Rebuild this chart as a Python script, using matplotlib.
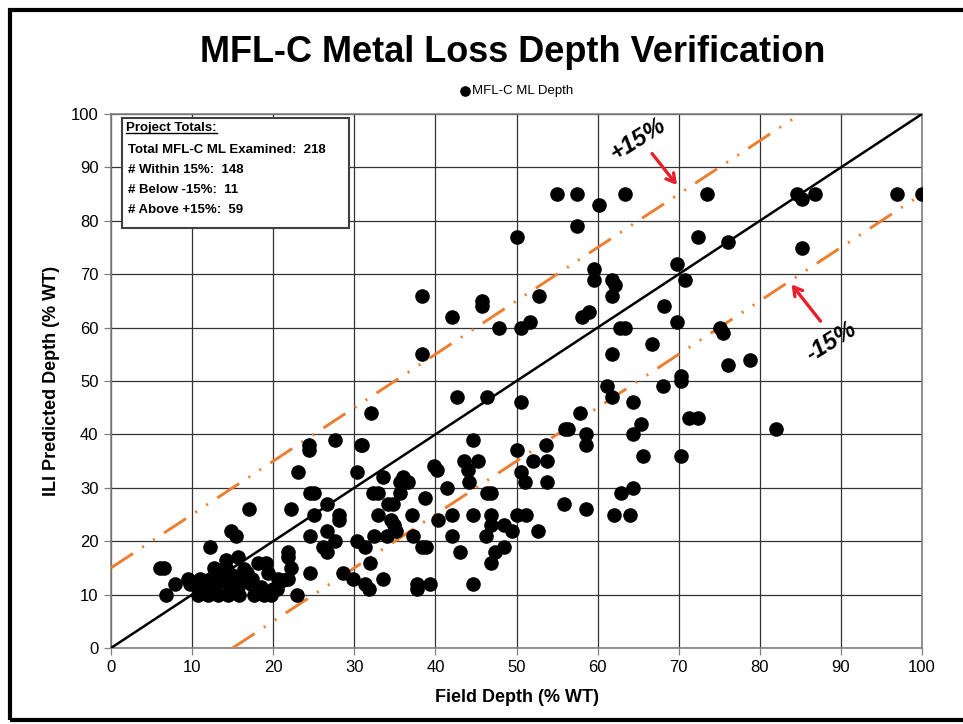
import matplotlib
matplotlib.use("Agg")
import matplotlib.pyplot as plt
from matplotlib import font_manager
from matplotlib.patches import Rectangle
from matplotlib.lines import Line2D

# pick a condensed sans if there is one
names = {f.name for f in font_manager.fontManager.ttflist}
fam = 'Liberation Sans Narrow' if 'Liberation Sans Narrow' in names else 'Liberation Sans'
plt.rcParams['font.family'] = [fam, 'DejaVu Sans']

# field depth (x) and ILI predicted depth (y), % WT
field = [6, 6.5, 6.8, 7.9, 9.5, 11, 12.2, 13.4, 14.2, 15.8, 16.6, 17.4, 20.6, 21.8,
         9.7, 10.7, 11.8, 13, 14.5, 15.7, 17.3, 18.5, 19.6,
         10.7, 12, 13.2, 14.4, 15.8, 17.6, 18.9, 19.7, 20,
         12.2, 14.8, 15.4, 14.2, 15.7, 18.1, 19.1, 12.7, 14.2, 16.4, 19.4,
         17, 22.2, 21.8, 21.8, 22.2, 22.9, 21.2, 13.7, 14.9, 16.8, 11.3, 20.5,
         24.5, 24.5, 24.5, 23,
         32, 27.6, 30.9, 24.4, 24.4, 30.3, 33.5, 36, 36.6, 35.6, 25, 32.3, 32.9, 35.6,
         38.7, 26.6, 34.2, 34.8, 28.1, 28.1, 25, 32.9, 37.1, 34.5, 34.9, 35.1, 26.6,
         27.6, 30.3, 32.4, 34, 37.2, 26.1, 26.6, 31.3, 31.9, 28.6, 29.8, 33.5, 31.3,
         31.8, 37.7, 37.7, 39.3, 44.6, 38.3, 38.8, 43, 47.3, 48.5, 46.8, 42, 46.3,
         48.5, 49.4, 52.6, 46.9, 46.9, 44.6, 42, 40.3, 50, 51.2, 55.9, 58.6, 41.4,
         40.2, 39.8, 44, 44.2, 43.5, 45.2, 50.6, 51, 53.8, 53.8, 52, 53.6, 50, 44.6,
         46.4, 46.8, 30.8,
         38.3, 38.3, 42, 45.7, 45.7, 47.8, 50.5, 51.7, 52.8, 42.7, 46.4, 50.5,
         55, 57.5, 63.4, 73.5, 84.6, 85.2, 86.8, 96.9, 100, 60.2, 57.5, 50, 72.4,
         76.1, 85.2, 59.6, 59.6, 61.8, 62.1, 61.8, 69.8, 70.8, 68.2, 69.8, 58.1, 59,
         62.8, 63.4, 75.1, 75.5, 66.7, 61.8, 78.8, 76.1, 70.3, 70.3, 68.1, 61.2, 61.8,
         57.8, 64.4, 65.4, 71.3, 72.4, 64.4, 58.6, 58.6, 82, 56, 56.4, 65.6, 70.3,
         62.9, 64.4, 62, 64]
ili = [15, 15, 10, 12, 13, 13, 13, 14, 13, 13, 14, 13, 13, 13,
       12, 11.5, 11, 12, 11.5, 11.5, 12, 11.5, 10.5,
       10, 10, 10, 10, 10, 10, 10, 10, 11,
       19, 22, 21, 16.5, 17, 16, 16, 15, 15, 14.8, 14,
       26, 26, 18, 17, 15, 10, 12.7, 14, 13.7, 14, 12.5, 11,
       29, 21, 14, 33,
       44, 39, 38, 38, 37, 33, 32, 32, 31, 31, 29, 29, 29, 29,
       28, 27, 27, 27, 25, 24, 25, 25, 25, 24, 23, 22, 22,
       20, 20, 21, 21, 21, 19, 18, 19, 16, 14, 13, 13, 12,
       11, 12, 11, 12, 12, 19, 19, 18, 18, 19, 16, 21, 21,
       23, 22, 22, 23, 25, 25, 25, 24, 25, 25, 27, 26, 30,
       33.3, 34, 33.3, 31, 35, 35, 33, 31, 31, 35, 35, 38, 37, 39,
       29, 29, 38,
       66, 55, 62, 65, 64, 60, 60, 61, 66, 47, 47, 46,
       85, 85, 85, 85, 85, 84, 85, 85, 85, 83, 79, 77, 77,
       76, 75, 71, 69, 69, 68, 66, 72, 69, 64, 61, 62, 63,
       60, 60, 60, 59, 57, 55, 54, 53, 51, 50, 49, 49, 47,
       44, 46, 42, 43, 43, 40, 40, 38, 41, 41, 41, 36, 36,
       29, 30, 25, 25]

ticks = list(range(0, 101, 10))
totals = ["Total MFL-C ML Examined:  218", "# Within 15%:  148",
          "# Below -15%:  11", "# Above +15%:  59"]

W, H = 963, 724
fig = plt.figure(figsize=(W / 100, H / 100), dpi=100)
ax = fig.add_axes([111 / W, 1 - 648 / H, 811 / W, 534 / H])

orange = '#ED7D31'
dashdotdot = (0, (9, 3.8, 0.7, 3.8, 0.7, 3.8))
ax.plot([0, 100], [0, 100], color='black', lw=1.8, zorder=3)
ax.plot([0, 85], [15, 100], color=orange, lw=2.1, ls=dashdotdot, dash_capstyle='butt', zorder=3)
ax.plot([15, 100], [0, 85], color=orange, lw=2.1, ls=dashdotdot, dash_capstyle='butt', zorder=3)
ax.scatter(field, ili, s=90, color='black', zorder=4, label='MFL-C ML Depth')

ax.set_xlim(0, 100)
ax.set_ylim(0, 100)
ax.set_xticks(ticks)
ax.set_yticks(ticks)
ax.grid(True, color='#333333', lw=0.9)
ax.set_axisbelow(True)
for s in ax.spines.values():
    s.set_color('#808080')
    s.set_linewidth(1.2)
ax.tick_params(length=5, width=0.9, color='#808080', labelsize=12, pad=4)

ax.set_xlabel('Field Depth (% WT)', fontsize=13, fontweight='bold', labelpad=10)
ax.set_ylabel('ILI Predicted Depth (% WT)', fontsize=13, fontweight='bold', labelpad=8)

fig.text(0.532, 1 - 52 / H, 'MFL-C Metal Loss Depth Verification', fontsize=26,
         fontweight='bold', ha='center', va='center')
ax.legend(loc='center', bbox_to_anchor=(0.5, 1.043), frameon=False, fontsize=9.5,
          handlelength=0.8, handletextpad=0.1, markerscale=0.7, borderaxespad=0)

# totals box
ax.add_patch(Rectangle((122 / W, 1 - 228 / H), 227 / W, 110 / H, transform=fig.transFigure,
                       facecolor='white', edgecolor='#404040', lw=1.5, zorder=5))
t0 = fig.text(126 / W, 1 - 128 / H, 'Project Totals:', fontsize=9.5, fontweight='bold',
              va='center', zorder=6)
for i, s in enumerate(totals):
    fig.text(128 / W, 1 - (150 + 20 * i) / H, s, fontsize=9.5, fontweight='bold',
             va='center', zorder=6)

# +/-15% labels with red arrows
ax.text(65.0, 95.2, '+15%', fontsize=17, fontweight='bold', style='italic',
        rotation=32, ha='center', va='center')
ax.text(88.8, 57.3, '-15%', fontsize=17, fontweight='bold', style='italic',
        rotation=32, ha='center', va='center')
red = '#E8202A'
ax.annotate('', xy=(70.0, 86.3), xytext=(66.5, 93.0),
            arrowprops=dict(arrowstyle='->,head_length=0.6,head_width=0.35', color=red, lw=2.4))
ax.annotate('', xy=(83.7, 68.5), xytext=(87.7, 60.8),
            arrowprops=dict(arrowstyle='->,head_length=0.6,head_width=0.35', color=red, lw=2.4))

# underline under the box heading
fig.canvas.draw()
bb = t0.get_window_extent().transformed(fig.transFigure.inverted())
fig.add_artist(Line2D([bb.x0, bb.x1], [bb.y0 + 0.001, bb.y0 + 0.001], color='black', lw=1,
                      transform=fig.transFigure, zorder=6))

# outer frame
fig.add_artist(Rectangle((10 / W, 1 - 720 / H), 970 / W, 710 / H, transform=fig.transFigure,
                         fill=False, edgecolor='black', lw=3))

fig.savefig('out.png', dpi=100)
